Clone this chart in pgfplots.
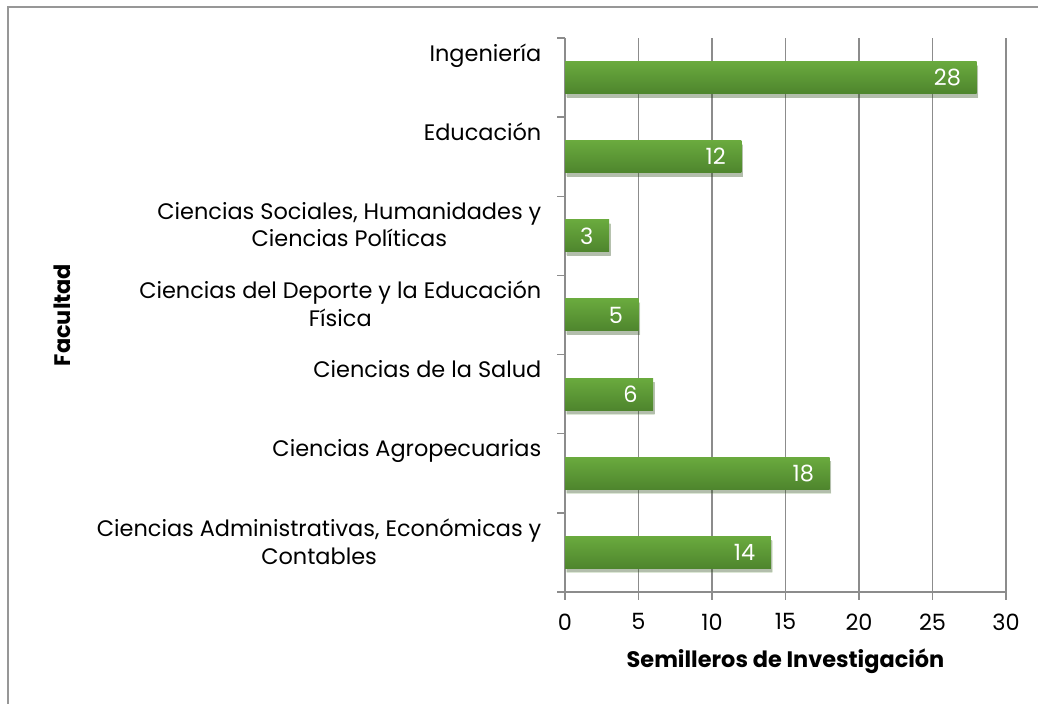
\documentclass[border=0pt]{standalone}
\usepackage{fontspec}
\setmainfont{Poppins}
\usepackage{pgfplots}
\pgfplotsset{compat=1.18}
\usetikzlibrary{shadows}
\definecolor{barTop}{HTML}{6AAA3E}
\definecolor{barBot}{HTML}{4E852D}
\definecolor{gridc}{HTML}{8C8C8C}
\begin{document}
\fontsize{22.5}{28}\selectfont
\begin{tikzpicture}[x=1bp,y=1bp]
\useasboundingbox (0,0) rectangle (1038,704);
\draw[gridc!90, line width=2bp] (7.5,0) -- (7.5,696.5) -- (1038,696.5);
\begin{axis}[at={(565bp,112bp)}, anchor=south west, scale only axis,
  width=441bp, height=554bp,
  xbar, bar shift=0pt, xmin=0, xmax=30, ymin=-0.5, ymax=6.5, bar width=32bp,
  axis x line*=bottom, axis y line*=left,
  axis line style={gridc, line width=1.5bp},
  xmajorgrids, grid style={gridc, line width=1.5bp},
  xtick={0,5,...,30},
  ytick={-0.5,0.5,...,6.5},
  yticklabels={{},{Ciencias Administrativas, Económicas y\\Contables},{Ciencias Agropecuarias},{Ciencias de la Salud},{Ciencias del Deporte y la Educación\\Física},{Ciencias Sociales, Humanidades y\\Ciencias Políticas},{Educación},{Ingeniería}},
  yticklabel style={anchor=north east, align=center, yshift=2bp, xshift=-8bp, font=\fontsize{22.5}{28}\selectfont},
  xticklabel style={font=\fontsize{22.5}{26}\selectfont, yshift=-6bp},
  /pgf/number format/assume math mode=true,
  tick align=outside, major tick length=8bp,
  tick style={gridc, line width=1.5bp},
  xlabel={\textbf{Semilleros de Investigación}},
  ylabel={\textbf{Facultad}},
  xlabel style={at={(axis description cs:0.5,0)}, anchor=center, yshift=-69bp, font=\fontsize{22.5}{26}\selectfont},
  ylabel style={at={(axis description cs:-1.14,0.5)}, anchor=center, rotate=0, font=\fontsize{22.5}{26}\selectfont},
  nodes near coords,
  nodes near coords style={anchor=east, xshift=-8bp, text=white, font=\fontsize{22.5}{26}\selectfont},
  clip=false,
  mybar/.style={draw=none, top color=barTop, bottom color=barBot,
    drop shadow={shadow xshift=1.5bp, shadow yshift=-4bp, opacity=0.2, fill=black}},
]
\addplot[mybar] coordinates {(14,0)};
\addplot[mybar] coordinates {(18,1)};
\addplot[mybar] coordinates {(6,2)};
\addplot[mybar] coordinates {(5,3)};
\addplot[mybar] coordinates {(3,4)};
\addplot[mybar] coordinates {(12,5)};
\addplot[mybar] coordinates {(28,6)};
\end{axis}
\end{tikzpicture}
\end{document}
